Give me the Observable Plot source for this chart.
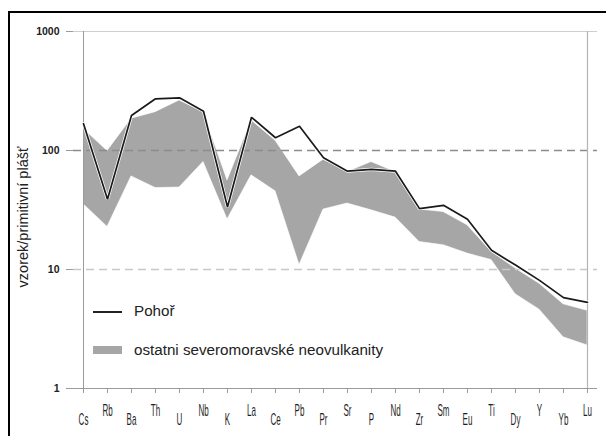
<!DOCTYPE html>
<html>
<head>
<meta charset="utf-8">
<script src="https://cdn.jsdelivr.net/npm/d3@7"></script>
<script src="https://cdn.jsdelivr.net/npm/@observablehq/plot@0.6"></script>
<style>
  html, body { margin: 0; padding: 0; background: #fff; }
  body { width: 606px; height: 436px; overflow: hidden; position: relative; font-family: "Liberation Sans", Arial, sans-serif; }
  #chart { position: absolute; left: 0; top: 0; }
  .border { position: absolute; left: 8px; top: 11px; width: 700px; height: 600px; border: 2.5px solid #000; box-sizing: border-box; pointer-events: none; }
  .legend { position: absolute; left: 0; top: 0; }
  .legend .sw { position: absolute; left: 93px; width: 29px; }
  .legend .lab { position: absolute; left: 134px; font-size: 15.2px; line-height: 18px; color: #222; white-space: nowrap; }
</style>
</head>
<body>
<div id="chart"></div>
<div class="legend">
  <div class="sw" style="top:311px;height:2px;background:#222"></div>
  <div class="lab" style="top:302px">Pohoř</div>
  <div class="sw" style="top:346px;height:8px;background:#a6a6a6"></div>
  <div class="lab" style="top:341px">ostatni severomoravské neovulkanity</div>
</div>
<div class="border"></div>
<script>
// Elements, ordered as in the primitive-mantle spider diagram
const elements = ["Cs","Rb","Ba","Th","U","Nb","K","La","Ce","Pb","Pr","Sr","P","Nd","Zr","Sm","Eu","Ti","Dy","Y","Yb","Lu"];

// Pohoř sample, normalised to primitive mantle
const pohor = [168, 39, 197, 272, 277, 214, 33.5, 190, 128, 160, 87, 67, 69.4, 67, 32.5, 34.6, 26.4, 14.5, 10.9, 8.1, 5.8, 5.3];

// Range of the other North-Moravian neovolcanics
const rangeUpper = [152, 99, 185, 210, 263, 210, 56, 179, 121, 60.6, 83.7, 65.9, 80, 66, 31.9, 30.4, 23.5, 14.1, 10.2, 7.6, 5.1, 4.5];
const rangeLower = [35.3, 22.8, 60.6, 48.4, 48.8, 80, 26.3, 61.8, 45.4, 10.9, 31.9, 35.8, 31.4, 27.3, 17, 16, 13.6, 12, 6.2, 4.6, 2.69, 2.3];

const yTicks = [1, 10, 100, 1000];
const yLabel = "vzorek/primitivní plášť";

const rows = elements.map((el, i) => ({el, pohor: pohor[i], lo: rangeLower[i], hi: rangeUpper[i]}));
const upperRow = elements.filter((_, i) => i % 2 === 1);
const lowerRow = elements.filter((_, i) => i % 2 === 0);

const plot = Plot.plot({
  width: 606,
  height: 436,
  marginTop: 31,
  marginRight: 9,
  marginBottom: 48,
  marginLeft: 73,
  style: {background: "transparent", fontFamily: "Liberation Sans, Arial, sans-serif"},
  x: {type: "point", domain: elements, padding: 0},
  y: {type: "log", domain: [1, 1000]},
  marks: [
    Plot.areaY(rows, {x: "el", y1: "lo", y2: "hi", fill: "#a6a6a6", stroke: "#fff", strokeWidth: 0.6}),
    Plot.ruleY([1000], {stroke: "#cfcfcf", strokeWidth: 1.2}),
    Plot.ruleY([100], {stroke: "#8c8c8c", strokeWidth: 1.3, strokeDasharray: "8,5"}),
    Plot.ruleY([10], {stroke: "#c8c8c8", strokeWidth: 1.3, strokeDasharray: "8,5"}),
    Plot.ruleX([elements[0]], {stroke: "#9a9a9a", strokeWidth: 1}),
    Plot.ruleX([elements[elements.length - 1]], {stroke: "#b4b4b4", strokeWidth: 1.2}),
    Plot.ruleY([1], {stroke: "#9a9a9a", strokeWidth: 1}),
    Plot.axisY({ticks: yTicks, tickFormat: d => String(d), tickSize: 7, tickPadding: 7, stroke: "#9a9a9a", fill: "#222", fontSize: 10.5, fontWeight: "bold", label: null}),
    Plot.axisX({ticks: upperRow, tickSize: 5, tickPadding: 11, stroke: "#9a9a9a", fill: "#1e1e1e", fontSize: 16, label: null}),
    Plot.axisX({ticks: lowerRow, tickSize: 5, tickPadding: 20, stroke: "#9a9a9a", fill: "#1e1e1e", fontSize: 16, label: null}),
    Plot.text([yLabel], {text: d => d, frameAnchor: "left", textAnchor: "middle", dx: -50, dy: 7, rotate: -90, fontSize: 14.5, fill: "#222"}),
    Plot.line(rows, {x: "el", y: "pohor", stroke: "#fff", strokeWidth: 3.2, strokeLinejoin: "miter"}),
    Plot.line(rows, {x: "el", y: "pohor", stroke: "#1a1a1a", strokeWidth: 1.7, strokeLinejoin: "miter"})
  ]
});

// condensed lettering for the element labels
d3.select(plot).selectAll('g[aria-label="x-axis tick label"] text').each(function () {
  const t = this.getAttribute("transform") || "";
  this.setAttribute("transform", t + " scale(0.5,1)");
});

document.getElementById("chart").appendChild(plot);
</script>
</body>
</html>
